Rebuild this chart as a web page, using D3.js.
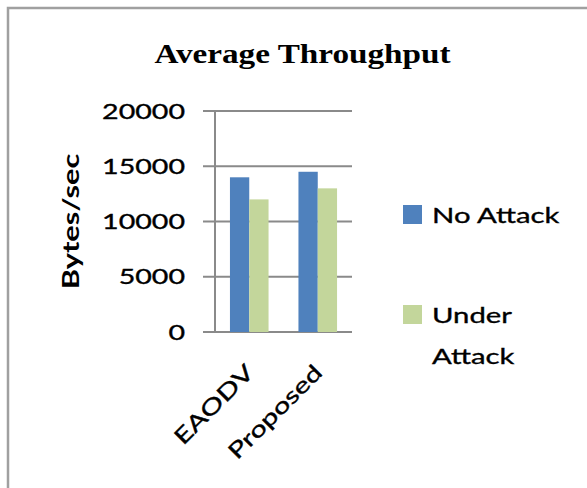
<!DOCTYPE html>
<html>
<head>
<meta charset="utf-8">
<script src="https://cdn.jsdelivr.net/npm/d3@7"></script>
<style>
  html, body { margin: 0; padding: 0; background: #ffffff; }
  svg { display: block; }
</style>
</head>
<body>
<svg id="chart" width="587" height="488"></svg>
<script>
// ---- data ----
const categories = ["EAODV", "Proposed"];
const seriesNames = ["No Attack", "Under Attack"];
const noAttack = [14000, 14500];
const underAttack = [12000, 13000];
const yTicks = [0, 5000, 10000, 15000, 20000];
const chartTitle = "Average Throughput";
const yTitle = "Bytes/sec";

// ---- layout / style ----
const W = 587, H = 488;
const plot = { left: 215, right: 352, top: 111, bottom: 332 };
const colors = ["#4F81BD", "#C3D69B"];
const gridColor = "#8a8a8a";
const sansFont = "Lato, 'Open Sans', sans-serif";
const serifFont = "'Liberation Serif', 'Times New Roman', serif";

const svg = d3.select("#chart");
svg.append("rect").attr("width", W).attr("height", H).attr("fill", "#fff");

// outer frame (top and left edges visible)
svg.append("path")
  .attr("d", `M8,${H} L8,8 L${W},8`)
  .attr("fill", "none").attr("stroke", "#a0a0a0").attr("stroke-width", 2.5);

function stretch(sel, k) {
  sel.each(function () {
    const l = this.getComputedTextLength();
    d3.select(this).attr("textLength", l * k).attr("lengthAdjust", "spacingAndGlyphs");
  });
}
function ink(sel) {
  sel.attr("stroke", "#000").attr("stroke-width", 0.35);
}

const y = d3.scaleLinear().domain([0, 20000]).range([plot.bottom, plot.top]);
const x0 = d3.scaleBand().domain(categories).range([plot.left, plot.right]).paddingInner(0).paddingOuter(0);
const x1 = d3.scaleBand().domain(seriesNames).range([0, x0.bandwidth()]).paddingInner(0).paddingOuter(0.775);

// gridlines
svg.append("g").selectAll("line").data(yTicks).join("line")
  .attr("x1", plot.left - 12).attr("x2", plot.right)
  .attr("y1", d => y(d)).attr("y2", d => y(d))
  .attr("stroke", gridColor).attr("stroke-width", 2);

// bars
const table = categories.map((c, i) => ({ cat: c, values: [noAttack[i], underAttack[i]] }));
const groups = svg.append("g").selectAll("g").data(table).join("g")
  .attr("transform", d => `translate(${x0(d.cat)},0)`);
groups.selectAll("rect").data(d => d.values.map((v, j) => ({ s: seriesNames[j], v, j }))).join("rect")
  .attr("x", d => x1(d.s)).attr("width", x1.bandwidth())
  .attr("y", d => y(d.v)).attr("height", d => y(0) - y(d.v))
  .attr("fill", d => colors[d.j]);

// y axis line
svg.append("line")
  .attr("x1", plot.left).attr("x2", plot.left)
  .attr("y1", y(20000)).attr("y2", y(0))
  .attr("stroke", gridColor).attr("stroke-width", 2);

// y tick labels via axis
const yAxis = svg.append("g").attr("transform", `translate(${plot.left},0)`)
  .call(d3.axisLeft(y).tickValues(yTicks).tickFormat(d3.format("d")).tickSize(0).tickPadding(30));
yAxis.select(".domain").remove();
yAxis.selectAll("text")
  .attr("font-family", sansFont).attr("font-size", 22).attr("fill", "#000");
ink(yAxis.selectAll("text"));
stretch(yAxis.selectAll("text"), 1.3);

// x labels
const xAxis = svg.append("g").attr("transform", `translate(0,${plot.bottom})`)
  .call(d3.axisBottom(x0).tickSize(0).tickPadding(0));
xAxis.select(".domain").remove();
xAxis.selectAll(".tick text")
  .attr("font-family", sansFont).attr("font-size", 22).attr("fill", "#000")
  .attr("text-anchor", "end").attr("dy", 0).attr("y", 0)
  .attr("transform", "translate(6,42) rotate(-45)");
ink(xAxis.selectAll(".tick text"));
stretch(xAxis.selectAll(".tick text"), 1.34);

// y title
const yt = svg.append("text")
  .attr("transform", `translate(79,${(plot.top + plot.bottom) / 2}) rotate(-90)`)
  .attr("text-anchor", "middle")
  .attr("font-family", sansFont).attr("font-size", 22).attr("font-weight", "bold")
  .attr("fill", "#000").text(yTitle);
stretch(yt, 1.4);

// title
const tt = svg.append("text")
  .attr("x", 302.5).attr("y", 63).attr("text-anchor", "middle")
  .attr("font-family", serifFont).attr("font-size", 27).attr("font-weight", "bold")
  .attr("fill", "#000").text(chartTitle);
stretch(tt, 1.23);

// legend
const legendItems = [
  { name: seriesNames[0], lines: ["No Attack"], top: 205, color: colors[0] },
  { name: seriesNames[1], lines: ["Under", "Attack"], top: 305, color: colors[1] }
];
const lg = svg.append("g");
legendItems.forEach(it => {
  lg.append("rect").attr("x", 403).attr("y", it.top).attr("width", 19).attr("height", 19).attr("fill", it.color);
  it.lines.forEach((ln, k) => {
    const t = lg.append("text").attr("x", 432).attr("y", it.top + 18 + k * 41)
      .attr("font-family", sansFont).attr("font-size", 22).attr("fill", "#000").text(ln);
    ink(t);
    stretch(t, 1.33);
  });
});
</script>
</body>
</html>
